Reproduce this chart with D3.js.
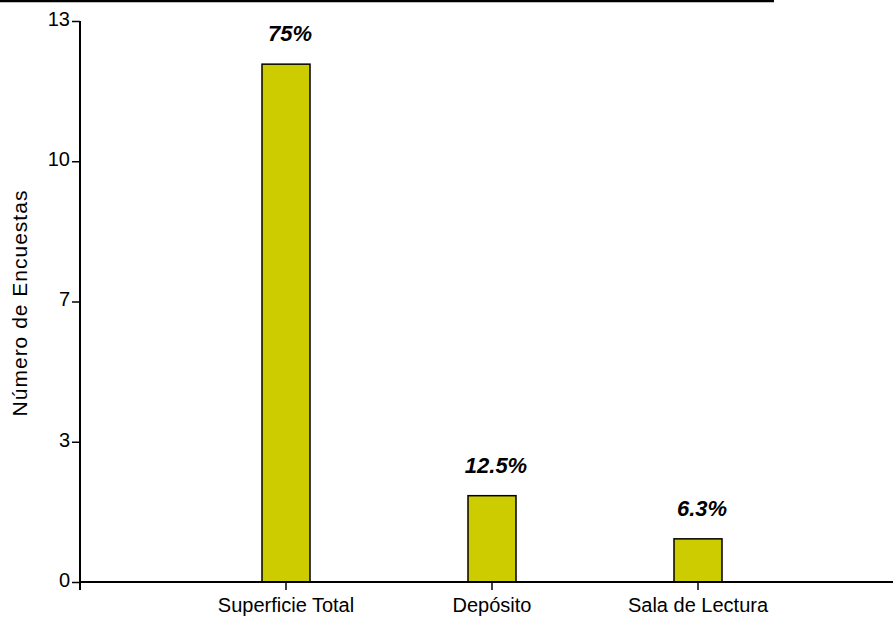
<!DOCTYPE html>
<html>
<head>
<meta charset="utf-8">
<script src="https://cdn.jsdelivr.net/npm/d3@7"></script>
<style>
  html, body { margin: 0; padding: 0; background: #fff; }
  svg { display: block; }
  text { font-family: "Liberation Sans", Arial, sans-serif; }
</style>
</head>
<body>
<svg id="chart" width="893" height="618"></svg>
<script>
const categories = ["Superficie Total", "Depósito", "Sala de Lectura"];
const values = [12, 2, 1];
const percentLabels = ["75%", "12.5%", "6.3%"];
const yTickValues = [0, 3.25, 6.5, 9.75, 13];
const yTickLabels = ["0", "3", "7", "10", "13"];
const yTitle = "Número de Encuestas";

const svg = d3.select("#chart");
const W = 893, H = 618;
const axisX = 80, axisY = 582, topY = 21;

// top border line
svg.append("line").attr("x1", 0).attr("x2", 774).attr("y1", 1).attr("y2", 1)
  .attr("stroke", "#000").attr("stroke-width", 2.5);

const y = d3.scaleLinear().domain([0, 13]).range([axisY, topY]);
const x = d3.scaleBand().domain(categories).range([183, 801])
  .paddingInner(0.767).paddingOuter(0.3835);

// bars
svg.append("g").selectAll("rect").data(values).join("rect")
  .attr("x", (d, i) => x(categories[i]))
  .attr("y", d => y(d))
  .attr("width", x.bandwidth())
  .attr("height", d => y(0) - y(d))
  .attr("fill", "#cccc00")
  .attr("stroke", "#000")
  .attr("stroke-width", 1.5);

// percent labels
svg.append("g").selectAll("text").data(values).join("text")
  .attr("x", (d, i) => x(categories[i]) + x.bandwidth() / 2 + 4)
  .attr("y", d => y(d) - 23)
  .attr("text-anchor", "middle")
  .attr("font-size", 22)
  .attr("font-weight", "bold")
  .attr("font-style", "italic")
  .attr("fill", "#000")
  .text((d, i) => percentLabels[i]);

// y axis
const yAxis = d3.axisLeft(y).tickValues(yTickValues)
  .tickFormat((d, i) => yTickLabels[i]).tickSize(8).tickPadding(2).tickSizeOuter(0);
const gy = svg.append("g").attr("transform", `translate(${axisX},0)`).call(yAxis);
gy.select(".domain").remove();
gy.selectAll(".tick line").attr("stroke", "#000").attr("stroke-width", 1.5);
gy.selectAll(".tick text").attr("font-size", 20).attr("fill", "#000").attr("dy", "0.22em")
  .attr("font-family", "Liberation Sans, Arial, sans-serif");
svg.append("line").attr("x1", axisX).attr("x2", axisX).attr("y1", topY).attr("y2", 590)
  .attr("stroke", "#000").attr("stroke-width", 2);

// x axis
const xAxis = d3.axisBottom(x).tickSize(8).tickPadding(8).tickSizeOuter(0);
const gx = svg.append("g").attr("transform", `translate(0,${axisY})`).call(xAxis);
gx.select(".domain").remove();
gx.selectAll(".tick line").attr("stroke", "#000").attr("stroke-width", 1.5);
gx.selectAll(".tick text").attr("font-size", 20).attr("fill", "#000")
  .attr("font-family", "Liberation Sans, Arial, sans-serif");
svg.append("line").attr("x1", axisX).attr("x2", W).attr("y1", axisY).attr("y2", axisY)
  .attr("stroke", "#000").attr("stroke-width", 2);

// y title
svg.append("text")
  .attr("transform", `translate(27,303) rotate(-90)`)
  .attr("text-anchor", "middle")
  .attr("font-size", 21)
  .attr("letter-spacing", "1px")
  .attr("fill", "#000")
  .text(yTitle);
</script>
</body>
</html>
